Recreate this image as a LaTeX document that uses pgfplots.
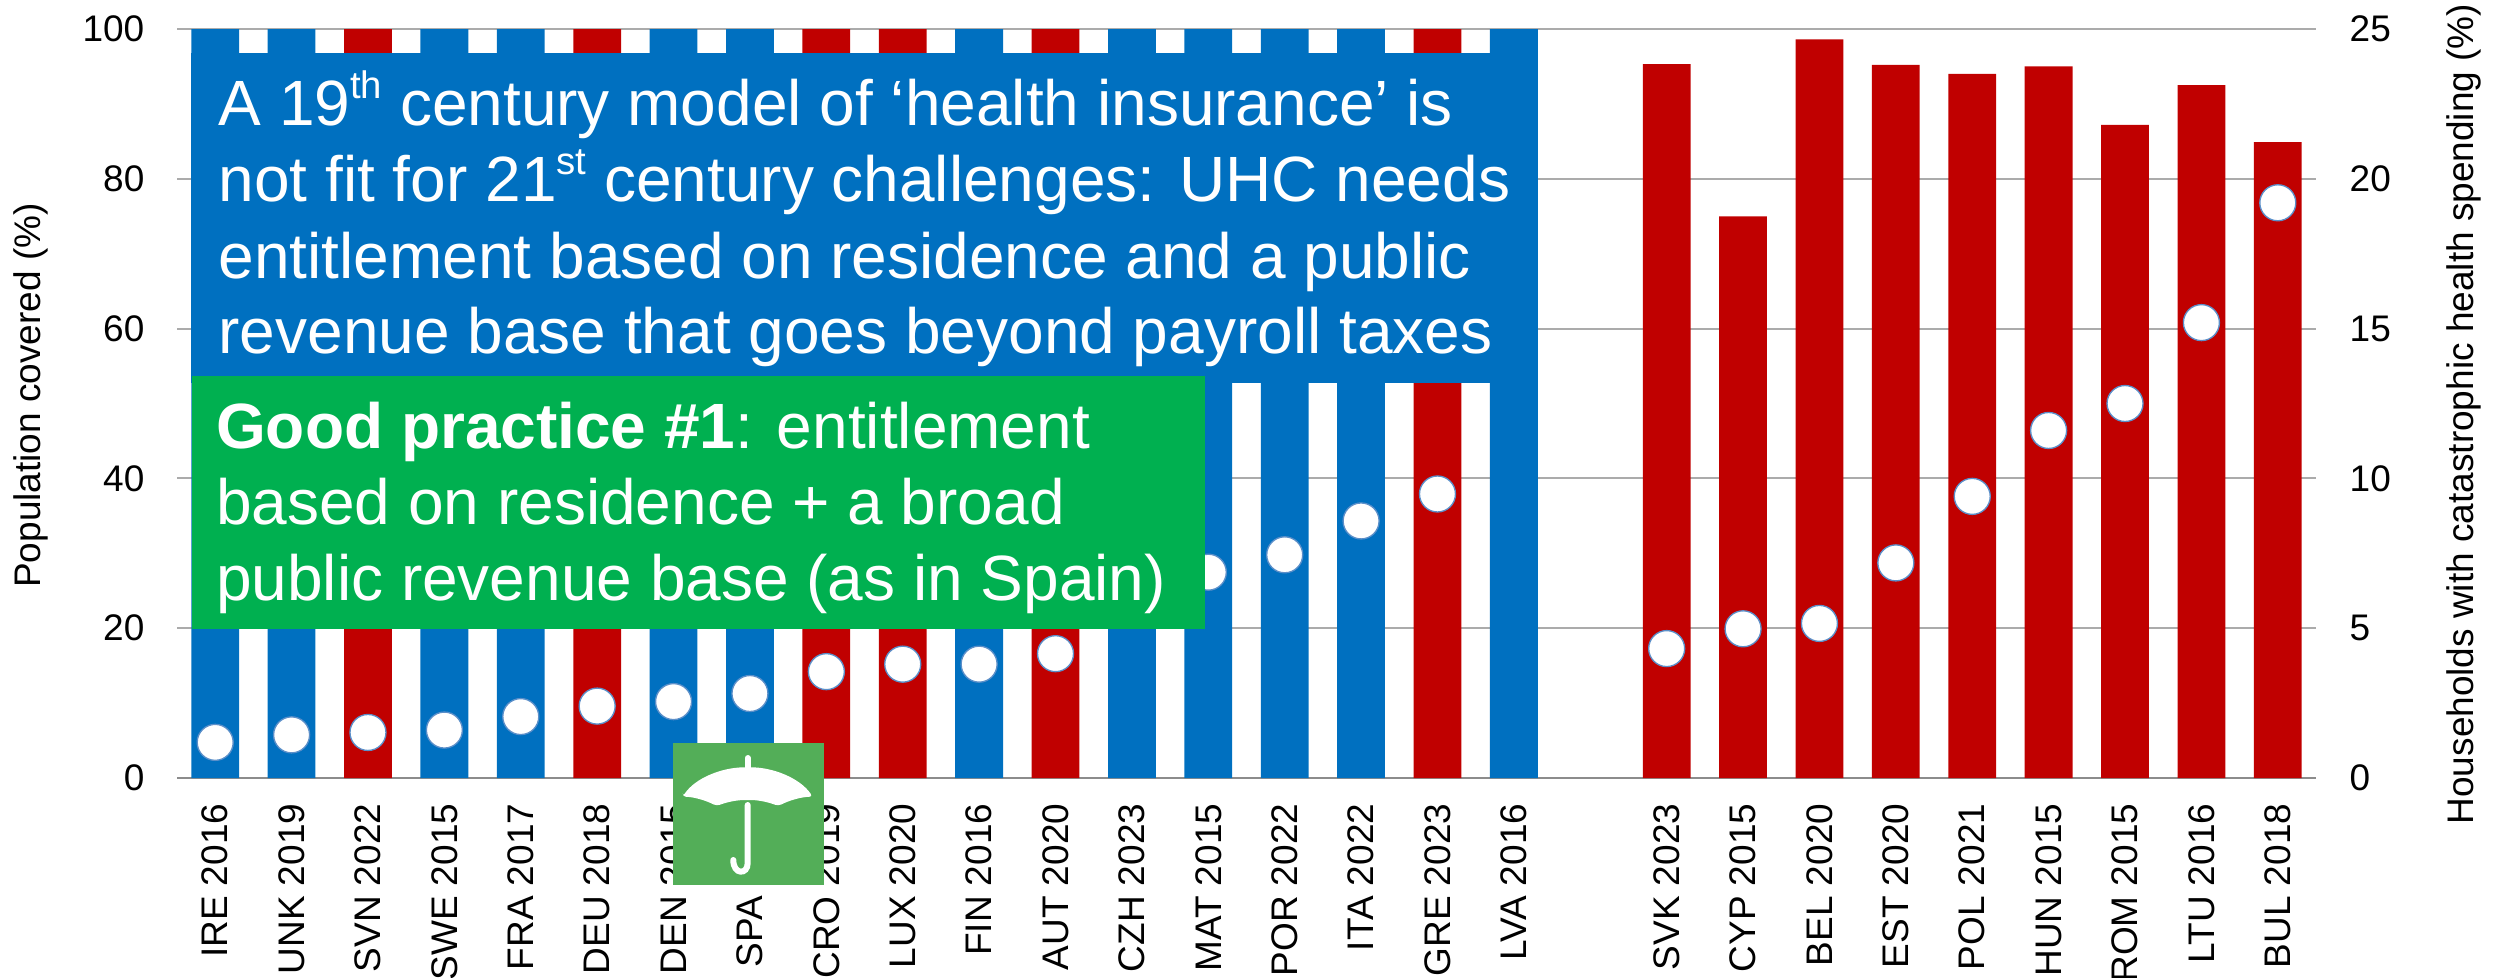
\documentclass[border=0pt]{standalone}
\usepackage{pgfplots}
\pgfplotsset{compat=1.18}
\usepackage{fontspec}
\setmainfont{Liberation Sans}
\definecolor{cblue}{HTML}{0070C0}
\definecolor{cred}{HTML}{C00000}
\definecolor{cgreen}{HTML}{00B050}
\definecolor{cumb}{HTML}{53AE58}
\definecolor{cgrid}{HTML}{ABABAB}
\definecolor{caxis}{HTML}{8C8C8C}
\definecolor{cdot}{HTML}{5B8FC9}
\begin{document}
\begin{tikzpicture}[x=0.3pt,y=0.3pt]
\useasboundingbox (0,0) rectangle (2501,977);
\begin{axis}[
  at={(53.1pt,59.7pt)}, anchor=south west,
  scale only axis, width=641.7pt, height=224.7pt,
  xmin=-0.5, xmax=27.5, ymin=0, ymax=100,
  axis y line*=left, axis x line*=bottom,
  y axis line style={draw=none},
  x axis line style={draw=caxis,line width=0.8pt,-},
  ytick={0,20,40,60,80,100},
  ymajorgrids, grid style={cgrid,line width=0.6pt},
  major tick length=0pt,
  xtick={0,1,2,3,4,5,6,7,8,9,10,11,12,13,14,15,16,17,19,20,21,22,23,24,25,26,27},
  xticklabels={IRE 2016,UNK 2019,SVN 2022,SWE 2015,FRA 2017,DEU 2018,DEN 2015,SPA \phantom{2019},CRO 2019,LUX 2020,FIN 2016,AUT 2020,CZH 2023,MAT 2015,POR 2022,ITA 2022,GRE 2023,LVA 2016,SVK 2023,CYP 2015,BEL 2020,EST 2020,POL 2021,HUN 2015,ROM 2015,LTU 2016,BUL 2018},
  xticklabel style={rotate=90,anchor=east,font=\fontsize{11.1}{13}\selectfont},
  yticklabel style={font=\fontsize{11.1}{13}\selectfont},
  /pgf/number format/assume math mode=true,
  tick label style={inner sep=0pt},
  xticklabel shift=7.5pt, yticklabel shift=9.6pt,
  ylabel={Population covered (\%)},
  ylabel style={font=\fontsize{11.1}{13}\selectfont,at={(axis description cs:-0.0685,0.5107)},rotate=0,anchor=center,inner sep=0pt},
  clip=true,
  ybar, bar shift=0pt, bar width=14.34pt,
]
\addplot[fill=cblue,draw=none] coordinates {(0,100)(1,100)(3,100)(4,100)(6,100)(7,100)(10,100)(12,100)(13,100)(14,100)(15,100)(17,100)};
\addplot[fill=cred,draw=none] coordinates {(2,100)(5,100)(8,100)(9,100)(11,100)(16,100)(19,95.3)(20,75)(21,98.6)(22,95.2)(23,94)(24,95)(25,87.2)(26,92.5)(27,84.9)};
\end{axis}
\begin{axis}[
  at={(53.1pt,59.7pt)}, anchor=south west,
  scale only axis, width=641.7pt, height=224.7pt,
  xmin=-0.5, xmax=27.5, ymin=0, ymax=25,
  axis y line*=right, axis x line=none,
  y axis line style={draw=none},
  ytick={0,5,10,15,20,25},
  major tick length=0pt,
  yticklabel style={font=\fontsize{11.1}{13}\selectfont},
  /pgf/number format/assume math mode=true,
  tick label style={inner sep=0pt},
  yticklabel shift=9.9pt,
  ylabel={Households with catastrophic health spending (\%)},
  ylabel style={font=\fontsize{11.1}{13}\selectfont,at={(axis description cs:1.069,0.486)},rotate=0,anchor=center,inner sep=0pt},
  clip=false,
]
\addplot[only marks,mark=*,mark size=5.4pt,mark options={fill=white,draw=cdot,line width=0.4pt}] coordinates {
(0,1.19)(1,1.44)(2,1.52)(3,1.60)(4,2.05)(5,2.40)(6,2.55)(7,2.82)(8,3.55)(9,3.80)(10,3.80)(11,4.15)(12,6.0)(13,6.87)(14,7.45)(15,8.58)(16,9.48)(17,15)
(19,4.32)(20,4.98)(21,5.16)(22,7.18)(23,9.40)(24,11.6)(25,12.5)(26,15.2)(27,19.2)};
\end{axis}
% annotation boxes in pixel coordinates, y downward
\begin{scope}[y=-0.3pt,yshift=293.1pt]
\fill[cblue] (191,53) rectangle (1537,382.7);
\fill[cgreen] (192,376) rectangle (1205,629);
\def\bigf{\fontsize{19.2}{22}\selectfont}
\newcommand{\sst}[1]{\raisebox{0.42em}{\fontsize{11.5}{13}\selectfont #1}}
\node[anchor=base west,inner sep=0pt,white,font=\bigf] at (218,125) {A 19\sst{th} century model of ‘health insurance’ is};
\node[anchor=base west,inner sep=0pt,white,font=\bigf] at (218,201.7) {not fit for 21\sst{st} century challenges: UHC needs};
\node[anchor=base west,inner sep=0pt,white,font=\bigf] at (218,278) {entitlement based on residence and a public};
\node[anchor=base west,inner sep=0pt,white,font=\bigf] at (218,353) {revenue base that goes beyond payroll taxes};
\node[anchor=base west,inner sep=0pt,white,font=\bigf] at (215.5,448) {\textbf{Good practice \#1}: entitlement};
\node[anchor=base west,inner sep=0pt,white,font=\bigf] at (215.5,524) {based on residence + a broad};
\node[anchor=base west,inner sep=0pt,white,font=\bigf] at (215.5,600.7) {public revenue base (as in Spain)};
% umbrella icon
\fill[cumb] (673,743) rectangle (824,885);
\fill[white,rounded corners=1pt] (682.7,796.7)
  .. controls (695,778) and (722,767.3) .. (747.7,767.3)
  .. controls (773,767.3) and (800,778) .. (812.7,796.7)
  .. controls (800,797) and (788,801) .. (778.3,806)
  .. controls (768,802) and (758,800) .. (747.7,800)
  .. controls (737,800) and (727,802) .. (716.7,806)
  .. controls (707,801) and (695,797) .. (682.7,796.7) -- cycle;
\draw[white,line width=1.8pt,line cap=round] (747.7,758) -- (747.7,768);
\draw[white,line width=1.8pt,line cap=round] (747.7,805) -- (747.7,863)
  .. controls (747.7,875) and (733.3,875) .. (733.3,860);
\end{scope}
\end{tikzpicture}
\end{document}
